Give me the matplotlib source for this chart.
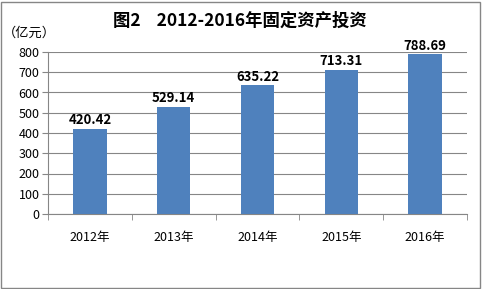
import numpy as np
import matplotlib.pyplot as plt
from matplotlib.patches import Rectangle

plt.rcParams['font.family'] = ['Noto Sans CJK SC', 'DejaVu Sans']

years = ['2012年', '2013年', '2014年', '2015年', '2016年']
values = [420.42, 529.14, 635.22, 713.31, 788.69]
yticks = [0, 100, 200, 300, 400, 500, 600, 700, 800]

fig = plt.figure(figsize=(4.82, 2.89), dpi=100)
ax = fig.add_axes([48/482, 1 - 214/289, (467-48)/482, (214-52)/289])

x = np.arange(len(years))
ax.bar(x, values, width=0.4, color='#4f81bd', zorder=3)
for xi, v in zip(x, values):
    ax.text(xi, v + 8, f'{v:.2f}', ha='center', va='bottom',
            fontsize=9.5, fontweight='bold', color='black')

ax.set_xlim(-0.5, len(years) - 0.5)
ax.set_ylim(0, 800)
ax.set_yticks(yticks)
ax.set_yticklabels([str(t) for t in yticks], fontsize=9)
ax.set_xticks(x)
ax.set_xticklabels(years, fontsize=9)
ax.set_xticks(np.arange(-0.5, len(years)), minor=True)
ax.tick_params(axis='x', which='major', length=0, pad=12)
ax.tick_params(axis='x', which='minor', length=4, color='#868686')
ax.tick_params(axis='y', length=4, color='#868686', pad=2)
ax.yaxis.grid(True, color='#868686', linewidth=0.8, zorder=0)
for s in ['top', 'right']:
    ax.spines[s].set_visible(False)
ax.spines['left'].set_color('#868686')
ax.spines['bottom'].set_color('#868686')

fig.text(240/482, 1 - 21/289, '图2    2012-2016年固定资产投资', ha='center', va='center',
         fontsize=12.5, fontweight='bold')
fig.text(3/482, 1 - 33/289, '（亿元）', ha='left', va='center', fontsize=9.5)

fig.patches.append(Rectangle((1/482, 1/289), 479/482, 286/289, transform=fig.transFigure,
                             fill=False, edgecolor='#868686', linewidth=1))

fig.savefig('out.png', dpi=100)
